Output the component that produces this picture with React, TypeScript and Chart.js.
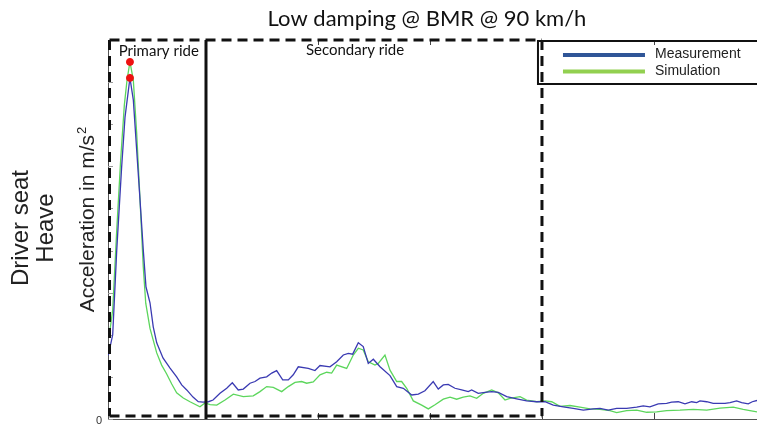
import React, { useEffect, useRef } from "react";
import { Chart, registerables } from "chart.js";

Chart.register(...registerables);

// Measurement (blue) and Simulation (green) acceleration curves
const measX = [1.28, 1.67, 2.03, 2.47, 2.77, 3.21, 3.51, 3.81, 4.11, 4.4, 4.64, 5.0, 5.29, 5.6, 6.16, 6.79, 7.38, 7.83, 8.28, 8.84, 9.31, 9.73, 10.21, 10.63, 11.25, 11.85, 12.35, 12.88, 13.33, 13.93, 14.38, 14.82, 15.42, 15.87, 16.31, 16.85, 17.35, 17.79, 18.24, 19.13, 19.73, 20.18, 21.07, 21.67, 22.26, 22.71, 23.1, 23.6, 24.04, 24.49, 24.94, 25.54, 26.43, 27.03, 27.62, 28.37, 28.96, 29.55, 30.29, 30.74, 31.19, 31.63, 32.23, 32.83, 33.42, 33.72, 34.31, 34.91, 35.51, 36.1, 36.85, 37.74, 38.63, 39.53, 40.27, 41.01, 41.9, 42.79, 43.69, 44.58, 45.18, 45.92, 46.67, 47.56, 48.46, 49.04, 49.64, 50.38, 51.13, 51.58, 52.17, 52.77, 53.37, 53.81, 54.11, 54.71, 55.29, 56.34, 56.79, 57.38, 57.83, 58.42, 58.78, 59.2];
const measY = [1.52, 2.0, 4.01, 5.99, 7.17, 8.1, 7.58, 6.39, 5.2, 4.01, 3.14, 2.76, 2.19, 1.81, 1.45, 1.21, 1.0, 0.81, 0.69, 0.52, 0.41, 0.4, 0.41, 0.45, 0.61, 0.73, 0.86, 0.69, 0.71, 0.85, 0.89, 0.97, 1.0, 1.09, 1.15, 0.93, 0.93, 1.05, 1.24, 1.2, 1.15, 1.27, 1.24, 1.36, 1.52, 1.56, 1.54, 1.81, 1.72, 1.32, 1.42, 1.24, 1.03, 0.77, 0.73, 0.57, 0.59, 0.67, 0.89, 0.71, 0.81, 0.82, 0.73, 0.69, 0.65, 0.69, 0.61, 0.63, 0.65, 0.63, 0.53, 0.48, 0.43, 0.41, 0.41, 0.33, 0.29, 0.25, 0.21, 0.24, 0.25, 0.21, 0.25, 0.25, 0.28, 0.31, 0.29, 0.36, 0.37, 0.4, 0.41, 0.36, 0.41, 0.39, 0.43, 0.41, 0.37, 0.37, 0.39, 0.43, 0.39, 0.36, 0.41, 0.44];
const simX = [1.37, 1.67, 2.03, 2.38, 2.71, 2.95, 3.21, 3.51, 3.81, 4.11, 4.4, 4.62, 5.0, 5.6, 6.04, 6.49, 6.94, 7.38, 7.97, 8.57, 9.46, 9.91, 10.36, 10.96, 11.7, 12.44, 13.33, 14.22, 14.82, 15.42, 16.01, 16.76, 17.35, 17.95, 18.54, 18.99, 19.58, 20.18, 20.78, 21.22, 21.67, 22.56, 23.15, 23.6, 24.04, 24.49, 25.09, 25.38, 25.98, 26.43, 27.03, 27.47, 27.92, 28.51, 29.26, 29.85, 30.45, 31.19, 31.79, 32.38, 32.97, 33.57, 34.17, 34.76, 35.51, 36.1, 36.7, 37.14, 38.04, 38.63, 39.53, 40.27, 40.87, 41.61, 42.5, 43.39, 44.29, 45.18, 46.07, 46.67, 47.56, 48.46, 49.35, 50.24, 51.13, 52.32, 53.51, 54.71, 55.89, 57.08, 57.97, 58.57, 59.2];
const simY = [2.0, 2.59, 4.49, 6.15, 7.46, 8.05, 8.48, 8.05, 6.79, 5.2, 3.61, 2.75, 2.15, 1.57, 1.28, 1.07, 0.83, 0.62, 0.5, 0.41, 0.29, 0.38, 0.34, 0.33, 0.45, 0.59, 0.53, 0.55, 0.65, 0.77, 0.75, 0.65, 0.77, 0.87, 0.89, 0.85, 0.88, 1.05, 1.11, 1.09, 1.28, 1.2, 1.52, 1.68, 1.64, 1.36, 1.28, 1.32, 1.52, 1.16, 0.89, 0.89, 0.73, 0.43, 0.33, 0.24, 0.34, 0.47, 0.52, 0.47, 0.52, 0.55, 0.49, 0.61, 0.69, 0.62, 0.45, 0.49, 0.53, 0.45, 0.41, 0.43, 0.41, 0.3, 0.32, 0.28, 0.24, 0.23, 0.2, 0.15, 0.2, 0.21, 0.16, 0.17, 0.2, 0.21, 0.23, 0.21, 0.26, 0.28, 0.23, 0.2, 0.17];

const seriesNames = ["Measurement", "Simulation"];
const xTicks = [10, 20, 30, 40, 50];
const yTicks = [0, 1, 2, 3, 4, 5, 6, 7, 8, 9];
const yTickLabels = ["0"];
const regionBounds = [10, 40]; // primary ride ends / secondary ride ends
const regionNames = ["Primary ride", "Secondary ride"];
const titleText = "Low damping @ BMR @ 90 km/h";

const X_MIN = 1.25;
const X_MAX = 59.2;
const Y_MIN = 0;
const Y_MAX = 9;

const BLUE = "#3a3ab2";
const GREEN = "#5cd65c";

function toPoints(xs: number[], ys: number[]) {
  return xs.map((x, i) => ({ x, y: ys[i] }));
}
function peakOf(xs: number[], ys: number[]) {
  let k = 0;
  ys.forEach((v, i) => {
    if (v > ys[k]) k = i;
  });
  return { x: xs[k], y: ys[k] };
}

const decorPlugin = {
  id: "decor",
  beforeDatasetsDraw(chart: any) {
    const { ctx, chartArea, scales } = chart;
    const xs = scales.x;
    const ys = scales.y;
    ctx.save();
    // axes
    ctx.strokeStyle = "#555";
    ctx.lineWidth = 1;
    ctx.beginPath();
    ctx.moveTo(chartArea.left, chartArea.bottom + 0.5);
    ctx.lineTo(chartArea.right, chartArea.bottom + 0.5);
    ctx.moveTo(chartArea.left + 0.5, chartArea.top);
    ctx.lineTo(chartArea.left + 0.5, chartArea.bottom);
    ctx.stroke();
    // y ticks (inward)
    ctx.strokeStyle = "#999";
    yTicks.forEach((t) => {
      const py = Math.round(ys.getPixelForValue(t)) + 0.5;
      ctx.beginPath();
      ctx.moveTo(chartArea.left, py);
      ctx.lineTo(chartArea.left + 5, py);
      ctx.stroke();
    });
    // x ticks (inward, bottom and top)
    ctx.strokeStyle = "#444";
    xTicks.forEach((t) => {
      const px = Math.round(xs.getPixelForValue(t)) + 0.5;
      ctx.beginPath();
      ctx.moveTo(px, chartArea.bottom);
      ctx.lineTo(px, chartArea.bottom - 6);
      ctx.moveTo(px, chartArea.top);
      ctx.lineTo(px, chartArea.top + 5);
      ctx.stroke();
    });
    // y tick label
    ctx.fillStyle = "#333";
    ctx.font = "11px 'Liberation Sans', Arial, sans-serif";
    ctx.textAlign = "right";
    ctx.textBaseline = "middle";
    yTickLabels.forEach((lab) => {
      ctx.fillText(lab, chartArea.left - 6, ys.getPixelForValue(Number(lab)) + 2);
    });
    ctx.restore();
  },
  afterDatasetsDraw(chart: any) {
    const { ctx, chartArea, scales } = chart;
    const xs = scales.x;
    const ys = scales.y;
    const left = chartArea.left + 1.5;
    const top = ys.getPixelForValue(Y_MAX);
    const bottom = chartArea.bottom - 3;
    const xMid = xs.getPixelForValue(regionBounds[0]);
    const xEnd = xs.getPixelForValue(regionBounds[1]);
    ctx.save();
    ctx.strokeStyle = "#111";
    ctx.lineWidth = 3;
    ctx.setLineDash([10, 6]);
    ctx.beginPath();
    ctx.moveTo(left, top);
    ctx.lineTo(xEnd, top);
    ctx.moveTo(left, bottom);
    ctx.lineTo(xEnd, bottom);
    ctx.moveTo(left, top);
    ctx.lineTo(left, bottom);
    ctx.moveTo(xEnd, top);
    ctx.lineTo(xEnd, bottom);
    ctx.stroke();
    ctx.setLineDash([]);
    ctx.beginPath();
    ctx.moveTo(xMid, top);
    ctx.lineTo(xMid, chartArea.bottom);
    ctx.stroke();

    // region labels
    ctx.fillStyle = "#111";
    ctx.font = "15px Lato, 'Open Sans', sans-serif";
    ctx.textAlign = "center";
    ctx.textBaseline = "middle";
    ctx.fillText(regionNames[0], (left + xMid) / 2 + 1, top + 11);
    ctx.fillText(regionNames[1], xMid + 149, top + 10);

    // legend box
    ctx.lineWidth = 2;
    ctx.strokeStyle = "#111";
    const lbLeft = xEnd - 4;
    ctx.strokeRect(lbLeft, top + 1, chart.width - lbLeft + 10, 43);
    ctx.lineWidth = 4;
    ctx.strokeStyle = "#2f5597";
    ctx.beginPath();
    ctx.moveTo(lbLeft + 25, top + 15);
    ctx.lineTo(lbLeft + 107, top + 15);
    ctx.stroke();
    ctx.strokeStyle = "#92d050";
    ctx.beginPath();
    ctx.moveTo(lbLeft + 25, top + 31.5);
    ctx.lineTo(lbLeft + 107, top + 31.5);
    ctx.stroke();
    ctx.fillStyle = "#222";
    ctx.font = "14px 'Liberation Sans', Arial, sans-serif";
    ctx.textAlign = "left";
    ctx.fillText(seriesNames[0], lbLeft + 117, top + 14.5);
    ctx.fillText(seriesNames[1], lbLeft + 117, top + 31.5);

    // title
    ctx.fillStyle = "#111";
    ctx.font = "22px Lato, 'Open Sans', sans-serif";
    ctx.textAlign = "center";
    ctx.textBaseline = "middle";
    ctx.fillText(titleText, 427, 19);

    // y axis titles (rotated)
    ctx.fillStyle = "#222";
    ctx.font = "21px 'Liberation Sans', Arial, sans-serif";
    const main = "Acceleration in m/s";
    const wMain = ctx.measureText(main).width;
    ctx.font = "13px 'Liberation Sans', Arial, sans-serif";
    const wSup = ctx.measureText("2").width;
    const total = wMain + wSup;
    ctx.save();
    ctx.translate(94, 220);
    ctx.rotate(-Math.PI / 2);
    ctx.textAlign = "left";
    ctx.textBaseline = "alphabetic";
    ctx.font = "21px 'Liberation Sans', Arial, sans-serif";
    ctx.fillText(main, -total / 2, 0);
    ctx.font = "13px 'Liberation Sans', Arial, sans-serif";
    ctx.fillText("2", -total / 2 + wMain + 1, -8);
    ctx.restore();

    ctx.save();
    ctx.translate(28, 228);
    ctx.rotate(-Math.PI / 2);
    ctx.textAlign = "center";
    ctx.textBaseline = "alphabetic";
    ctx.font = "24px 'Liberation Sans', Arial, sans-serif";
    ctx.fillText("Driver seat", 0, 0);
    ctx.fillText("Heave", 0, 25);
    ctx.restore();

    ctx.restore();
  },
};

export default function App() {
  const ref = useRef<HTMLCanvasElement>(null);
  useEffect(() => {
    if (!ref.current) return;
    const chart = new Chart(ref.current, {
      type: "line",
      data: {
        datasets: [
          {
            type: "scatter",
            label: "peaks",
            data: [peakOf(simX, simY), peakOf(measX, measY)],
            pointRadius: 3.5,
            pointBackgroundColor: "#ee1111",
            pointBorderColor: "#ee1111",
            order: 0,
          } as any,
          {
            label: seriesNames[0],
            data: toPoints(measX, measY),
            borderColor: BLUE,
            borderWidth: 1.3,
            pointRadius: 0,
            tension: 0,
            fill: false,
            order: 1,
          },
          {
            label: seriesNames[1],
            data: toPoints(simX, simY),
            borderColor: GREEN,
            borderWidth: 1.3,
            pointRadius: 0,
            tension: 0,
            fill: false,
            order: 2,
          },
        ],
      },
      options: {
        responsive: false,
        animation: false,
        layout: { autoPadding: false, padding: { left: 108, top: 40, right: 0, bottom: 5 } },
        plugins: { legend: { display: false }, title: { display: false }, tooltip: { enabled: false } },
        scales: {
          x: { type: "linear", min: X_MIN, max: X_MAX, display: false },
          y: { type: "linear", min: Y_MIN, max: Y_MAX, display: false },
        },
      },
      plugins: [decorPlugin],
    });
    return () => chart.destroy();
  }, []);
  return (
    <div style={{ position: "absolute", left: 0, top: 0, width: 757, height: 424, background: "#fff" }}>
      <canvas ref={ref} width={757} height={424} />
    </div>
  );
}
